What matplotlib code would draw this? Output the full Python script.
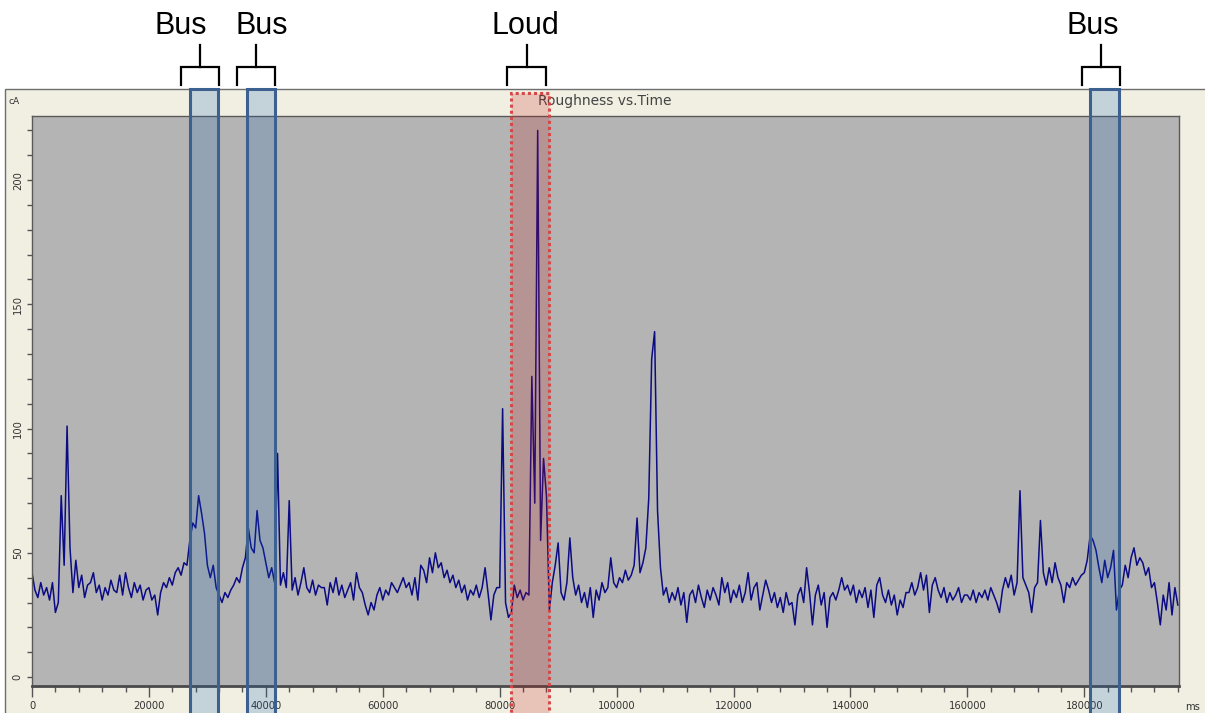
import numpy as np
import matplotlib
matplotlib.use("Agg")
import matplotlib.pyplot as plt
from matplotlib.patches import Rectangle
from matplotlib.lines import Line2D
import matplotlib.transforms as mtransforms
from matplotlib.ticker import MultipleLocator

# ---------------- data ----------------
sample_step_ms = 500
roughness = [
    42, 35, 32, 38, 33, 36, 31, 38, 26, 30, 73, 45, 101, 52, 34, 47, 36, 41, 32, 37,
    38, 42, 34, 37, 31, 36, 33, 39, 35, 34, 41, 33, 42, 36, 32, 38, 34, 37, 31, 35,
    36, 31, 33, 25, 34, 38, 36, 40, 37, 42, 44, 41, 46, 45, 55, 62, 60, 73, 66, 58,
    45, 40, 45, 36, 33, 30, 34, 32, 35, 37, 40, 38, 44, 48, 60, 52, 50, 67, 55, 52,
    46, 40, 44, 38, 90, 37, 42, 36, 71, 35, 40, 33, 38, 44, 36, 34, 39, 33, 37, 36,
    36, 29, 38, 34, 40, 33, 37, 32, 35, 38, 31, 42, 36, 34, 29, 25, 30, 27, 33, 36,
    31, 35, 33, 38, 36, 34, 37, 40, 36, 38, 33, 40, 31, 45, 43, 38, 48, 42, 50, 44,
    46, 40, 43, 38, 41, 36, 39, 34, 37, 31, 35, 33, 37, 32, 36, 44, 34, 23, 33, 36,
    36, 108, 30, 24, 26, 37, 32, 35, 31, 34, 33, 121, 70, 220, 55, 88, 73, 27, 38, 45,
    54, 34, 31, 38, 56, 40, 33, 37, 30, 34, 28, 36, 24, 35, 31, 38, 34, 36, 48, 38,
    36, 40, 38, 43, 39, 41, 45, 64, 42, 46, 52, 72, 128, 139, 67, 44, 33, 36, 30, 34,
    31, 36, 29, 34, 22, 33, 35, 30, 37, 32, 28, 35, 31, 36, 33, 29, 40, 34, 38, 30,
    35, 32, 37, 30, 34, 42, 31, 36, 38, 27, 33, 39, 35, 30, 34, 28, 32, 26, 34, 29,
    30, 21, 33, 36, 30, 44, 34, 21, 33, 37, 29, 34, 20, 32, 34, 31, 35, 40, 35, 37,
    33, 37, 30, 35, 32, 36, 28, 35, 24, 37, 40, 33, 30, 35, 29, 33, 25, 31, 28, 34,
    34, 38, 33, 36, 42, 35, 41, 26, 37, 40, 35, 32, 36, 30, 34, 31, 33, 36, 30, 33,
    33, 31, 35, 30, 34, 32, 35, 31, 36, 33, 30, 26, 35, 40, 36, 41, 33, 38, 75, 40,
    37, 34, 26, 36, 38, 63, 42, 37, 44, 38, 46, 40, 37, 30, 38, 36, 40, 37, 39, 41,
    42, 47, 57, 55, 51, 44, 38, 47, 40, 44, 51, 27, 35, 37, 45, 40, 48, 52, 45, 48,
    46, 41, 44, 36, 38, 30, 21, 33, 27, 38, 25, 36, 29,
]
times_ms = np.arange(len(roughness)) * sample_step_ms

x_ticks = [0, 20000, 40000, 60000, 80000, 100000, 120000, 140000, 160000, 180000]
x_tick_labels = [str(v) for v in x_ticks]
y_ticks = [0, 50, 100, 150, 200]
y_tick_labels = [str(v) for v in y_ticks]

event_labels = ["Bus", "Bus", "Loud", "Bus"]
event_kind = ["bus", "bus", "loud", "bus"]
event_start = [27080, 36820, 81960, 181020]
event_end = [31740, 41630, 88460, 185990]
bracket_start = [25490, 35080, 81270, 179650]
bracket_end = [32000, 41580, 87950, 186160]
label_x = [25490, 39350, 84350, 181400]

# ---------------- figure ----------------
W, H = 1205, 713
fig = plt.figure(figsize=(W / 100, H / 100), dpi=100)
fig.patch.set_facecolor("white")


def fy(py):
    return 1 - py / H


panel = Rectangle((5 / W, -0.02), 1.0, (713 - 89) / H + 0.02,
                  transform=fig.transFigure, facecolor="#f1efe2",
                  edgecolor="#6e6e6e", lw=1.0, zorder=-5)
fig.add_artist(panel)

ax = fig.add_axes([32 / W, 1 - 686 / H, (1179 - 32) / W, (686 - 116) / H])
ax.set_facecolor("#b4b4b4")
ax.plot(times_ms, roughness, color="#0b0b84", lw=1.1)
ax.set_xlim(0, 196200)
ax.set_ylim(-3.6, 225.8)

ax.set_xticks(x_ticks)
ax.set_xticklabels(x_tick_labels)
ax.xaxis.set_minor_locator(MultipleLocator(4000))
ax.set_yticks(y_ticks)
ax.set_yticklabels(y_tick_labels, rotation=90, va="center")
ax.yaxis.set_minor_locator(MultipleLocator(10))

ax.tick_params(axis="x", which="major", length=8, width=1, color="#555555",
               pad=3, labelsize=7.2, labelcolor="#333333")
ax.tick_params(axis="x", which="minor", length=4, width=1, color="#555555")
ax.tick_params(axis="y", which="both", length=3.6, width=1, color="#555555",
               pad=3, labelsize=7.2, labelcolor="#333333")
for side in ["left", "top", "right"]:
    ax.spines[side].set_color("#5a5a5a")
    ax.spines[side].set_linewidth(1.0)
ax.spines["bottom"].set_color("#4a4a4a")
ax.spines["bottom"].set_linewidth(2.0)

fig.text(605 / W, fy(101), "Roughness vs.Time", ha="center", va="center",
         fontsize=10, color="#444444")
fig.text(14 / W, fy(101), "cA", ha="center", va="center", fontsize=6.5,
         color="#333333")
fig.text(1193 / W, fy(707), "ms", ha="center", va="center", fontsize=7.2,
         color="#333333")

# ---------------- annotations ----------------
trans = mtransforms.blended_transform_factory(ax.transData, fig.transFigure)
for lab, kind, s, e, bs, be, lx in zip(event_labels, event_kind, event_start,
                                       event_end, bracket_start, bracket_end,
                                       label_x):
    if kind == "bus":
        top = fy(88.5)
        rect = Rectangle((s, -0.02), e - s, top + 0.02, transform=trans,
                         facecolor=(20 / 255, 95 / 255, 185 / 255, 0.2),
                         edgecolor="#3c6090", lw=2.2, zorder=6, clip_on=False)
    else:
        top = fy(93)
        rect = Rectangle((s, -0.02), e - s, top + 0.02, transform=trans,
                         facecolor=(200 / 255, 20 / 255, 20 / 255, 0.2),
                         edgecolor="#d44848", lw=2.2, linestyle=(0, (1, 1)),
                         zorder=6, clip_on=False)
    fig.add_artist(rect)
    mid = (bs + be) / 2
    fig.add_artist(Line2D([bs, bs, be, be], [fy(85), fy(67), fy(67), fy(85)],
                          transform=trans, color="black", lw=1.6,
                          solid_joinstyle="miter", zorder=7))
    fig.add_artist(Line2D([mid, mid], [fy(67), fy(45)], transform=trans,
                          color="black", lw=1.6, zorder=7))
    fig.text(lx, fy(33.5), lab, transform=trans, ha="center", va="baseline",
             fontsize=22, family="Liberation Sans", color="black")

fig.savefig("out.png", dpi=100)
